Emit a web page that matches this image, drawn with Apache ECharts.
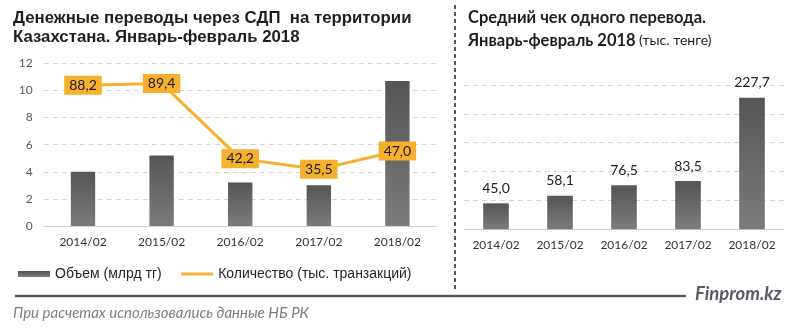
<!DOCTYPE html>
<html>
<head>
<meta charset="utf-8">
<script src="https://cdn.jsdelivr.net/npm/echarts@6/dist/echarts.min.js"></script>
<style>html,body{margin:0;padding:0;background:#fff}#c{width:800px;height:333px}</style>
</head>
<body>
<div id="c"></div>
<script>
var categories = ['2014/02', '2015/02', '2016/02', '2017/02', '2018/02'];
var volume = [4.0, 5.2, 3.2, 3.0, 10.7];
var count = [88.2, 89.4, 42.2, 35.5, 47.0];
var avgCheck = [45.0, 58.1, 76.5, 83.5, 227.7];
var leftTicks = [0, 2, 4, 6, 8, 10, 12];

var titleLeft = 'Денежные переводы через СДП  на территории\nКазахстана. Январь-февраль 2018';
var nameVolume = 'Объем (млрд тг)';
var nameCount = 'Количество (тыс. транзакций)';

function comma(v) { return v.toFixed(1).replace('.', ','); }

var chart = echarts.init(document.getElementById('c'), null, {renderer: 'canvas'});
var barGrad = new echarts.graphic.LinearGradient(0, 0, 0, 1, [
  {offset: 0, color: '#555555'}, {offset: 1, color: '#7c7c7c'}
]);
var orange = '#F5B02E';
var calib = 'Lato, "Open Sans", sans-serif';
var gridLine = {show: true, lineStyle: {color: '#d4d4d4', type: [5, 4], width: 1}};

chart.setOption({
  animation: false,
  textStyle: {fontFamily: calib},
  legend: {
    left: 13, top: 262,
    itemWidth: 32, itemHeight: 6, itemGap: 18,
    textStyle: {fontFamily: '"Liberation Sans", Arial, sans-serif', fontSize: 14, color: '#262626'},
    data: [{name: nameVolume, icon: 'rect'}, {name: nameCount, itemStyle: {opacity: 0}, lineStyle: {width: 3, color: orange}}]
  },
  grid: [
    {left: 43.7, right: 363.3, top: 63.3, bottom: 107, outerBoundsMode: 'none', containLabel: false},
    {left: 464, right: 16, top: 85, bottom: 103.7, outerBoundsMode: 'none', containLabel: false}
  ],
  xAxis: [
    {type: 'category', gridIndex: 0, data: categories,
     axisLine: {lineStyle: {color: '#d0d0d0'}}, axisTick: {show: false},
     axisLabel: {color: '#333', fontSize: 12, margin: 10, fontFamily: calib}},
    {type: 'category', gridIndex: 1, data: categories,
     axisLine: {lineStyle: {color: '#d0d0d0'}}, axisTick: {show: false},
     axisLabel: {color: '#333', fontSize: 12, margin: 10, fontFamily: calib}}
  ],
  yAxis: [
    {type: 'value', gridIndex: 0, min: leftTicks[0], max: leftTicks[leftTicks.length - 1], interval: 2,
     axisLine: {show: false}, axisTick: {show: false},
     axisLabel: {color: '#595959', fontSize: 12, margin: 11, fontFamily: calib},
     splitLine: gridLine},
    {type: 'value', gridIndex: 0, min: 0, max: 102, show: false, splitLine: {show: false}},
    {type: 'value', gridIndex: 1, min: 0, max: 250, interval: 50,
     axisLine: {show: false}, axisTick: {show: false}, axisLabel: {show: false},
     splitLine: gridLine}
  ],
  series: [
    {name: nameVolume, type: 'bar', xAxisIndex: 0, yAxisIndex: 0, data: volume,
     barWidth: '31%', itemStyle: {color: barGrad}},
    {name: nameCount, type: 'line', xAxisIndex: 0, yAxisIndex: 1, data: count,
     symbol: 'circle', symbolSize: 1, showSymbol: true,
     lineStyle: {color: orange, width: 3}, itemStyle: {color: orange},
     label: {show: true, position: 'inside', backgroundColor: orange, color: '#1a1a1a',
       fontSize: 14, fontFamily: calib, padding: [3, 5, 2, 5],
       formatter: function (p) { return comma(p.value); }}},
    {name: 'avg', type: 'bar', xAxisIndex: 1, yAxisIndex: 2, data: avgCheck,
     barWidth: '40%', itemStyle: {color: barGrad},
     label: {show: true, position: 'top', distance: 8, color: '#222', fontSize: 14, fontFamily: calib,
       formatter: function (p) { return comma(p.value); }}}
  ],
  graphic: [
    {type: 'text', left: 13, top: 9, style: {text: titleLeft, font: 'bold 16.8px "Liberation Sans", Arial, sans-serif', fill: '#1e1e1e', lineHeight: 19}},
    {type: 'text', left: 468, top: 9, style: {
      text: '{b|Средний чек одного перевода.}\n{b|Январь-февраль 2018} {n|(тыс. тенге)}',
      rich: {
        b: {font: 'bold 16.5px ' + calib, fill: '#1e1e1e', lineHeight: 23},
        n: {font: '14px ' + calib, fill: '#1e1e1e', lineHeight: 23}
      }}},
    {type: 'line', shape: {x1: 455, y1: 5, x2: 455, y2: 292}, style: {stroke: '#222', lineWidth: 1.5, lineDash: [4, 3]}},
    {type: 'line', shape: {x1: 15, y1: 296, x2: 686, y2: 296}, style: {stroke: '#595959', lineWidth: 2.5}},
    {type: 'text', left: 695, top: 285, style: {text: 'Finprom.kz', font: 'italic bold 18.5px ' + calib, fill: '#5a5a66'}},
    {type: 'text', left: 13, top: 306, style: {text: 'При расчетах использовались данные НБ РК', font: 'italic 15px ' + calib, fill: '#7f7f7f'}}
  ]
});
</script>
</body>
</html>
